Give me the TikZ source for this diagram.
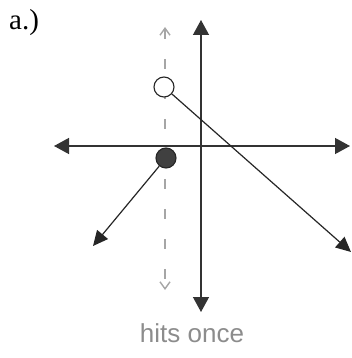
\documentclass[tikz,border=0pt]{standalone}
\usepackage{fontspec}
\setmainfont{Liberation Serif}
\newfontfamily\handfont{Liberation Sans}
\usetikzlibrary{arrows.meta}

\begin{document}
\begin{tikzpicture}[
    x=1pt, y=-1pt,
    axis/.style={line width=1.3pt, {Triangle[length=15pt,width=16pt]}-{Triangle[length=15pt,width=16pt]}, draw=black!80, fill=black!80},
    ray/.style={line width=1.2pt, -{Triangle[length=15pt,width=14pt]}, draw=black!85},
    dot/.style={circle, draw=black!85, line width=1.1pt, minimum size=20pt, inner sep=0pt},
    vtest/.style={draw=black!35, line width=1.4pt, dash pattern=on 10pt off 20pt, {Straight Barb[length=7pt,width=10pt]}-{Straight Barb[length=7pt,width=10pt]}}
]
\useasboundingbox (0,0) rectangle (352,358);

\node[font=\fontsize{29}{29}\selectfont, anchor=north west, inner sep=0pt] (label) at (9,9) {a.)};

% axes
\coordinate (xl) at (54,146);
\coordinate (xr) at (350,146);
\coordinate (yt) at (201,20);
\coordinate (yb) at (201,312);
\draw[axis] (xl) -- (xr);
\draw[axis] (yt) -- (yb);

% vertical line test
\coordinate (vt) at (165,27);
\coordinate (vb) at (165,290);
\draw[vtest] (vt) -- (vb);

% pieces
\node[dot, fill=white] (open) at (164,87) {};
\node[dot, fill=black!75] (closed) at (166,158) {};
\coordinate (rend) at (351,252);
\coordinate (lend) at (93,246);
\draw[ray] (open) -- (rend);
\draw[ray] (closed) -- (lend);

\node[font=\handfont\fontsize{26}{26}\selectfont, text=black!45] (note) at (192,333) {hits once};
\end{tikzpicture}
\end{document}
